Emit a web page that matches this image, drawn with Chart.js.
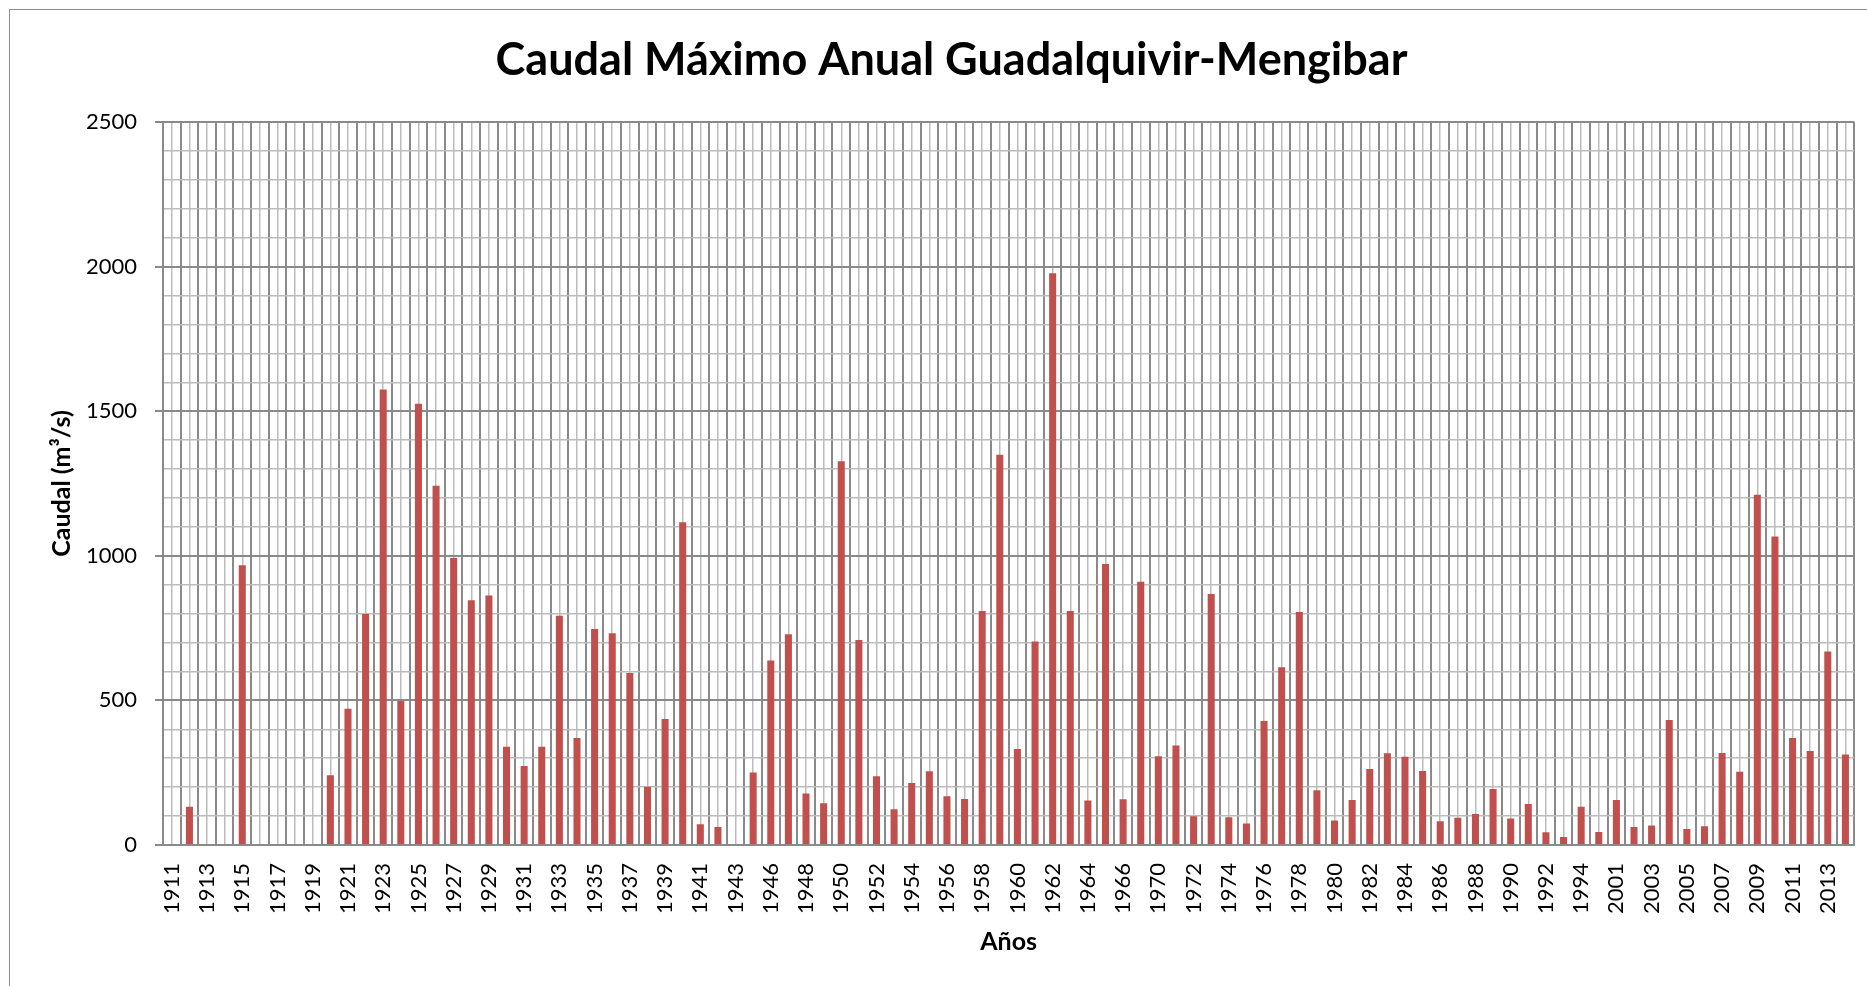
<!DOCTYPE html>
<html>
<head>
<meta charset="utf-8">
<script src="https://cdn.jsdelivr.net/npm/chart.js@4.4.1/dist/chart.umd.min.js"></script>
<style>
  html, body { margin: 0; padding: 0; background: #ffffff; overflow: hidden; width: 1867px; height: 986px; }
  #frame { position: absolute; left: 9px; top: 9px; width: 1900px; height: 1000px; border: 1px solid #8c8c8c; background: #ffffff; }
  #c { position: absolute; left: 10px; top: 10px; }
</style>
</head>
<body>
<div id="frame"></div>
<canvas id="c" width="1880" height="980"></canvas>
<script>
// ---- Data ----
const years = [
  "1911","1912","1913","1914","1915","1916","1917","1918","1919","1920",
  "1921","1922","1923","1924","1925","1926","1927","1928","1929","1930",
  "1931","1932","1933","1934","1935","1936","1937","1938","1939","1940",
  "1941","1942","1943","1945","1946","1947","1948","1949","1950","1951",
  "1952","1953","1954","1955","1956","1957","1958","1959","1960","1961",
  "1962","1963","1964","1965","1966","1968","1970","1971","1972","1973",
  "1974","1975","1976","1977","1978","1979","1980","1981","1982","1983",
  "1984","1985","1986","1987","1988","1989","1990","1991","1992","1993",
  "1994","2000","2001","2002","2003","2004","2005","2006","2007","2008",
  "2009","2010","2011","2012","2013","2014"
];
const caudalMaximo = [
  null, 132, null, null, 967, null, null, null, null, 241,
  471, 799, 1575, 498, 1526, 1242, 992, 846, 863, 340,
  273, 340, 793, 370, 747, 732, 595, 201, 436, 1116,
  72, 62, null, 251, 638, 729, 178, 144, 1327, 709,
  238, 124, 214, 255, 169, 159, 809, 1349, 332, 704,
  1977, 809, 154, 972, 158, 910, 307, 344, 99, 868,
  96, 74, 429, 615, 806, 189, 85, 156, 263, 317,
  305, 256, 82, 94, 107, 194, 92, 142, 44, 28,
  132, 45, 156, 62, 67, 432, 55, 65, 318, 253,
  1211, 1067, 370, 325, 669, 313
];
const yTicks = [0, 500, 1000, 1500, 2000, 2500];
const chartTitle = "Caudal Máximo Anual Guadalquivir-Mengibar";
const xTitle = "Años";
const yTitle = "Caudal (m³/s)";

// ---- Styles ----
const DARK = "#8a8a8a";
const LIGHT = "#bcbcbc";
const BAR = "#c0504d";
const FONT = "Lato";

const ctx = document.getElementById("c").getContext("2d");
new Chart(ctx, {
  type: "bar",
  data: {
    labels: years,
    datasets: [{
      label: "Caudal",
      data: caudalMaximo,
      backgroundColor: BAR,
      borderWidth: 0,
      barPercentage: 0.4,
      categoryPercentage: 1.0
    }]
  },
  options: {
    responsive: false,
    animation: false,
    devicePixelRatio: 1,
    layout: { padding: { left: 37, right: 34, top: 0, bottom: 25 } },
    plugins: {
      legend: { display: false },
      tooltip: { enabled: false },
      title: {
        display: true,
        text: chartTitle,
        color: "#000",
        font: { family: FONT, size: 45, weight: "bold" },
        padding: { top: 23, bottom: 35 }
      }
    },
    scales: {
      x: {
        type: "category",
        position: "bottom",
        offset: true,
        grid: { display: true, offset: true, color: DARK, lineWidth: 2, drawTicks: false },
        border: { display: true, color: DARK, width: 2 },
        ticks: {
          autoSkip: false,
          maxRotation: 90,
          minRotation: 90,
          padding: 18,
          color: "#000",
          font: { family: FONT, size: 22 },
          callback: function (v, i) { return i % 2 === 0 ? this.getLabelForValue(v) : ""; }
        },
        title: {
          display: true,
          text: xTitle,
          color: "#000",
          font: { family: FONT, size: 25, weight: "bold" },
          padding: { top: 0, bottom: 8 }
        },
        afterFit: function (s) { s.height = 120; }
      },
      x2: {
        type: "category",
        position: "top",
        offset: true,
        grid: { display: true, offset: false, color: LIGHT, lineWidth: 1.5, drawTicks: false },
        border: { display: false },
        ticks: { display: false },
        afterFit: function (s) { s.height = 0; }
      },
      y: {
        type: "linear",
        position: "left",
        min: 0,
        max: 2500,
        grid: {
          color: (c) => (c.tick && c.tick.value % 500 === 0 ? DARK : LIGHT),
          lineWidth: (c) => (c.tick && c.tick.value % 500 === 0 ? 2 : 1.5),
          tickColor: (c) => (c.tick && c.tick.value % 500 === 0 ? DARK : "rgba(0,0,0,0)"),
          tickLength: 8
        },
        border: { display: true, color: DARK, width: 2 },
        ticks: {
          stepSize: 100,
          autoSkip: false,
          padding: 18,
          color: "#000",
          font: { family: FONT, size: 22 },
          callback: (v) => (yTicks.includes(v) ? String(v) : "")
        },
        title: {
          display: true,
          text: yTitle,
          color: "#000",
          font: { family: FONT, size: 25, weight: "bold" },
          padding: { top: 0, bottom: 0 }
        },
        afterFit: function (s) { s.width = 116; }
      }
    }
  }
});
</script>
</body>
</html>
